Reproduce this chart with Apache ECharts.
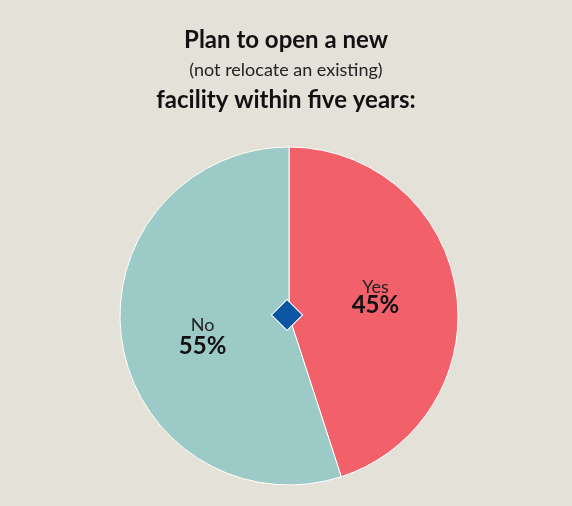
<!DOCTYPE html>
<html><head><meta charset="utf-8">
<script src="https://cdn.jsdelivr.net/npm/echarts@6/dist/echarts.min.js"></script>
<style>html,body{margin:0;padding:0;background:#e4e1d8;}#c{width:572px;height:506px;}</style>
</head><body><div id="c"></div>
<script>
const categories = ["Yes", "No"];
const values = [45, 55];
const colors = ["#f2606a", "#9ccac6"];
const chart = echarts.init(document.getElementById('c'));
const richBase = {
  n: { fontFamily: 'Lato', fontSize: 18, color: '#222', lineHeight: 34 },
  p: { fontFamily: 'Lato', fontWeight: 'bold', fontSize: 24, color: '#111', lineHeight: 30 }
};
chart.setOption({
  backgroundColor: '#e4e1d8',
  title: {
    left: 'center', top: 20,
    text: '{b|Plan to open a new}\n{n|(not relocate an existing)}\n{b|facility within five years:}',
    textStyle: { fontWeight: 'normal', rich: {
      b: { fontFamily: 'Lato', fontWeight: 'bold', fontSize: 24, color: '#111', lineHeight: 30 },
      n: { fontFamily: 'Lato', fontWeight: 'normal', fontSize: 18, color: '#222', lineHeight: 30 }
    }}
  },
  series: [{
    type: 'pie', center: [289, 316], radius: [0, 169], startAngle: 90, clockwise: true,
    silent: true, z: 2,
    itemStyle: { borderColor: '#ffffff', borderWidth: 1 },
    label: {
      position: 'inner',
      formatter: p => '{n|' + p.name + '}\n{p|' + p.value + '%}',
      rich: richBase
    },
    labelLine: { show: false },
    data: [
      { name: categories[0], value: values[0], itemStyle: { color: colors[0] },
        label: { rich: { n: richBase.n, p: Object.assign({}, richBase.p, { padding: [0, 0, 28, 0] }) } } },
      { name: categories[1], value: values[1], itemStyle: { color: colors[1] },
        label: { rich: { n: Object.assign({}, richBase.n, { padding: [20, 0, 0, 0] }), p: richBase.p } } }
    ]
  }],
  graphic: [{
    type: 'rect', x: 287, y: 315, rotation: Math.PI / 4, z: 100,
    shape: { x: -11, y: -11, width: 22, height: 22 },
    style: { fill: '#0b56a2', stroke: '#ffffff', lineWidth: 1 }
  }]
});
</script></body></html>
